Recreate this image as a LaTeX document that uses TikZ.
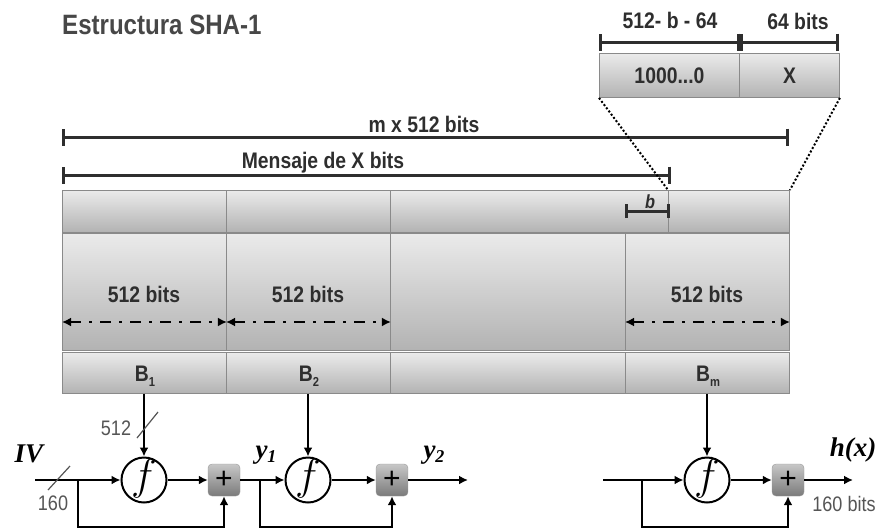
\documentclass[tikz,border=0pt]{standalone}
\usepackage{graphicx}
\usepackage{fontspec}
\setmainfont{Liberation Sans}
\newfontfamily\cond[FakeStretch=0.86]{Liberation Sans}
\newfontfamily\serifit{Liberation Serif}
\usetikzlibrary{arrows.meta}
\definecolor{txt}{HTML}{2E2E2E}
\definecolor{edge}{HTML}{8A8A8A}
\definecolor{lbl}{HTML}{555555}
\newcommand{\bigf}{\fontsize{20}{20}\selectfont\scalebox{2.1}{$f$}}
\begin{document}
\begin{tikzpicture}[x=1pt,y=-1pt,
  cell/.style={draw=edge, line width=0.9pt, top color=black!8, bottom color=black!30, inner sep=0pt, anchor=north west},
  bold/.style={font=\fontsize{22.5}{24}\selectfont\cond\bfseries, text=txt, inner sep=0pt},
  thin/.style={font=\fontsize{21}{22}\selectfont\cond, text=lbl, inner sep=0pt},
  dim/.style={draw=txt, line width=3pt, {Bar[width=17pt,line width=3pt]}-{Bar[width=17pt,line width=3pt]}},
  dda/.style={line width=2.8pt, dash pattern=on 11pt off 8pt on 3pt off 8pt, {Latex[length=9pt,width=9pt]}-{Latex[length=9pt,width=9pt]}},
  arr/.style={line width=2.6pt, -{Latex[length=9pt,width=9pt]}},
  fun/.style={circle, draw, line width=2pt, minimum size=45pt, inner sep=0pt},
  plus/.style={rounded corners=4pt, minimum size=32pt, inner sep=0pt, draw=black!40, top color=black!22, bottom color=black!52, font=\fontsize{30}{30}\selectfont},
  sym/.style={font=\fontsize{27}{28}\selectfont\serifit\bfseries\itshape, inner sep=0pt},
]
\useasboundingbox (0,0) rectangle (882,530);

% title
\node[anchor=west, font=\fontsize{28}{30}\selectfont\cond\bfseries, text=black!72, inner sep=0pt] (title) at (62,25) {Estructura SHA-1};

% top padding boxes
\node[cell, minimum width=140pt, minimum height=44pt] (pad) at (599,53) {};
\node[cell, minimum width=100pt, minimum height=44pt] (len) at (739,53) {};
\node[bold] (padt) at (pad.center) {1000...0};
\node[bold] (lent) at (len.center) {X};
\coordinate (d1) at (599,42); \coordinate (d2) at (740,42); \coordinate (d3) at (839,42);
\draw[dim] (d1) -- (d2);
\draw[dim] (d2) -- (d3);
\node[bold] (padl) at (670,20) {512- b - 64};
\node[bold] (lenl) at (798,21) {64 bits};

% dimension lines
\coordinate (m1) at (62,137); \coordinate (m2) at (789,137);
\draw[dim] (m1) -- (m2);
\node[bold] (mt) at (424,124) {m x 512 bits};
\coordinate (x1) at (62,175); \coordinate (x2) at (671,175);
\draw[dim] (x1) -- (x2);
\node[bold] (xt) at (323,163) {Mensaje de X bits};

% row 1
\node[cell, minimum width=164pt, minimum height=42pt] (r1a) at (62,190) {};
\node[cell, minimum width=164pt, minimum height=42pt] (r1b) at (226,190) {};
\node[cell, minimum width=278pt, minimum height=42pt] (r1c) at (390,190) {};
\node[cell, minimum width=121pt, minimum height=42pt] (r1d) at (668,190) {};
% row 2
\node[cell, minimum width=164pt, minimum height=117pt] (r2a) at (62,233) {};
\node[cell, minimum width=164pt, minimum height=117pt] (r2b) at (226,233) {};
\node[cell, minimum width=235pt, minimum height=117pt] (r2c) at (390,233) {};
\node[cell, minimum width=164pt, minimum height=117pt] (r2d) at (625,233) {};
% row 3
\node[cell, minimum width=164pt, minimum height=41pt] (r3a) at (62,352) {};
\node[cell, minimum width=164pt, minimum height=41pt] (r3b) at (226,352) {};
\node[cell, minimum width=235pt, minimum height=41pt] (r3c) at (390,352) {};
\node[cell, minimum width=164pt, minimum height=41pt] (r3d) at (625,352) {};

% dotted zoom lines
\draw[line width=2pt, dash pattern=on 2pt off 2pt] (pad.south west) -- (r1d.north west);
\draw[line width=2pt, dash pattern=on 2pt off 2pt] (len.south east) -- (r1d.north east);

% b mark
\coordinate (b1) at (625,211); \coordinate (b2) at (670,211);
\draw[draw=txt, line width=3pt, {Bar[width=14pt,line width=3pt]}-{Bar[width=14pt,line width=3pt]}] (b1) -- (b2);
\node[font=\fontsize{19}{20}\selectfont\cond\bfseries\itshape, text=txt, inner sep=0pt] (bt) at (650,202) {b};

% 512 bits labels and arrows
\node[bold] (l1) at (144,294) {512 bits};
\node[bold] (l2) at (308,294) {512 bits};
\node[bold] (l3) at (707,294) {512 bits};
\draw[dda] (r2a.west |- 0,322) -- (r2a.east |- 0,322);
\draw[dda] (r2b.west |- 0,322) -- (r2b.east |- 0,322);
\draw[dda] (r2d.west |- 0,322) -- (r2d.east |- 0,322);

% block labels
\node[bold] (B1) at (145,376) {B\raisebox{-0.45ex}{\fontsize{13}{13}\selectfont 1}};
\node[bold] (B2) at (309,376) {B\raisebox{-0.45ex}{\fontsize{13}{13}\selectfont 2}};
\node[bold] (Bm) at (708,376) {B\raisebox{-0.45ex}{\fontsize{13}{13}\selectfont m}};

% compression chain
\node[fun] (f1) at (144,480) {};
\node[fun] (f2) at (308,480) {};
\node[fun] (f3) at (707,480) {};
\node[inner sep=0pt] (f1t) at ([yshift=1pt]f1.center) {\bigf};
\node[inner sep=0pt] (f2t) at ([yshift=1pt]f2.center) {\bigf};
\node[inner sep=0pt] (f3t) at ([yshift=1pt]f3.center) {\bigf};
\node[plus] (p1) at (224,480) {+};
\node[plus] (p2) at (392,480) {+};
\node[plus] (p3) at (788,480) {+};

\coordinate (iv) at (35,480);
\coordinate (br1) at (78,480);
\coordinate (br2) at (260,480);
\coordinate (in3) at (603,480);
\coordinate (br3) at (642,480);
\coordinate (y2e) at (468,480);
\coordinate (hx) at (853,480);

\draw[arr] (r3a.south -| f1) -- (f1.north);
\draw[arr] (r3b.south -| f2) -- (f2.north);
\draw[arr] (r3d.south -| f3) -- (f3.north);

\draw[arr] (iv) -- (f1.west);
\draw[arr] (br1) -- ++(0,47) -| (p1.south);
\draw[arr] (f1.east) -- (p1.west);
\draw[arr] (p1.east) -- (f2.west);
\draw[arr] (br2) -- ++(0,47) -| (p2.south);
\draw[arr] (f2.east) -- (p2.west);
\draw[arr] (p2.east) -- (y2e);
\draw[arr] (in3) -- (f3.west);
\draw[arr] (br3) -- ++(0,47) -| (p3.south);
\draw[arr] (f3.east) -- (p3.west);
\draw[arr] (p3.east) -- (hx);

% width slashes
\coordinate (s1a) at (137,438); \coordinate (s1b) at (158,412);
\draw[lbl, line width=1.2pt] (s1a) -- (s1b);
\coordinate (s2a) at (48,490); \coordinate (s2b) at (70,466);
\draw[lbl, line width=1.2pt] (s2a) -- (s2b);
\node[thin] (n512) at (116,428) {512};
\node[thin] (n160) at (53,503) {160};
\node[thin] (n160b) at (844,504) {160 bits};

% symbols
\node[sym] (IV) at (29,454) {IV};
\node[sym] (y1) at (266,455) {y\raisebox{-0.35ex}{\fontsize{18}{18}\selectfont 1}};
\node[sym] (y2) at (434,455) {y\raisebox{-0.35ex}{\fontsize{18}{18}\selectfont 2}};
\node[sym] (hxt) at (853,450) {h(x)};
\end{tikzpicture}
\end{document}
